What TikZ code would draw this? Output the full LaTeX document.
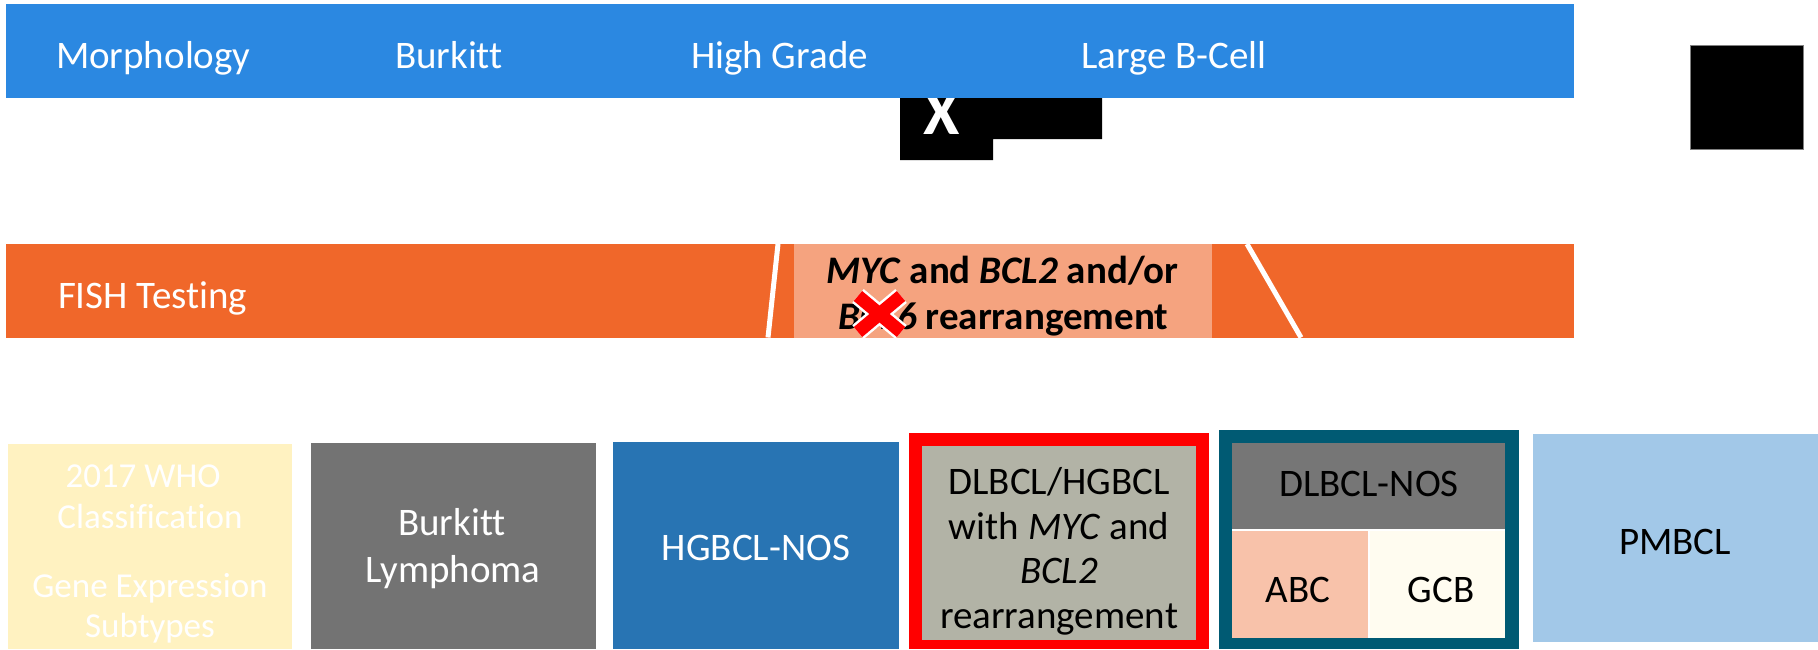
\documentclass[tikz,border=0pt]{standalone}
\usepackage{fontspec}
\setmainfont{Carlito}[Ligatures=NoCommon]
\definecolor{barblue}{HTML}{2B88E1}
\definecolor{fishorange}{HTML}{F0672A}
\definecolor{salmon}{HTML}{F5A37F}
\definecolor{paleyellow}{HTML}{FFF2C1}
\definecolor{burkgray}{HTML}{737373}
\definecolor{hgblue}{HTML}{2874B3}
\definecolor{olivegray}{HTML}{B2B3A6}
\definecolor{tealdark}{HTML}{005A73}
\definecolor{nosgray}{HTML}{767676}
\definecolor{abcpink}{HTML}{F8C2AA}
\definecolor{gcbcream}{HTML}{FFFCF0}
\definecolor{pmblue}{HTML}{A2C8E8}
\begin{document}
\begin{tikzpicture}[x=1pt,y=-1pt,
  rect/.style={inner sep=0pt, outer sep=0pt, anchor=north west, draw=none},
  lbl/.style={inner sep=0pt, outer sep=0pt, anchor=base, font=\fontsize{39}{46}\selectfont},
  lblw/.style={lbl, anchor=base west, text=white},
]
\useasboundingbox (0,0) rectangle (1818,649);

% black fragments under top bar
\fill[black] (900,97) -- (1102,97) -- (1102,139) -- (993,139) -- (993,160) -- (900,160) -- cycle;
\node[inner sep=0pt, anchor=base, text=white, font=\fontsize{66}{66}\selectfont\bfseries] (xmark) at (942,134) {X};
\node[rect, fill=black, draw=gray, line width=1pt, minimum width=113pt, minimum height=104pt] (blacksq) at (1690,45) {};

% morphology bar
\node[rect, fill=barblue, minimum width=1568pt, minimum height=93.5pt] (morphbar) at (6,4) {};
\node[lblw] (morph) at (56,68) {Morphology};
\node[lblw] (mburk) at (395,68) {Burkitt};
\node[lblw] (mhigh) at (691,68) {High Grade};
\node[lblw] (mlarge) at (1081,68) {Large B-Cell};

% FISH bar
\node[rect, fill=fishorange, minimum width=1568pt, minimum height=93.5pt] (fishbar) at (6,244) {};
\node[rect, fill=salmon, minimum width=418pt, minimum height=93.5pt] (rearrbox) at (793.5,244) {};
\draw[white, line width=5pt] (778,244) -- (768,337.5);
\draw[white, line width=5pt] (1247,244) -- (1301,337.5);
\node[lblw] (fish) at (58,308) {FISH Testing};
\node[lbl, font=\fontsize{39}{46}\selectfont\bfseries] (rl1) at (1002.5,283) {\textit{MYC} and \textit{BCL2} and/or};
\node[lbl, font=\fontsize{39}{46}\selectfont\bfseries] (rl2) at (1003.5,329) {\textit{BCL6} rearrangement};
% red cross
\draw[white, line width=18pt] (858,296) -- (901,332);
\draw[white, line width=18pt] (901,296) -- (858,332);
\draw[red, line width=13pt] (858,296) -- (901,332);
\draw[red, line width=13pt] (901,296) -- (858,332);

% bottom boxes
\node[rect, fill=paleyellow, minimum width=284pt, minimum height=205pt] (whobox) at (8,444) {};
\node[lbl, text=white, font=\fontsize{35}{41}\selectfont] (who1) at (143,487) {2017 WHO};
\node[lbl, text=white, font=\fontsize{35}{41}\selectfont] (who2) at (150,528) {Classification};
\node[lbl, text=white, font=\fontsize{35}{41}\selectfont] (who3) at (150,597) {Gene Expression};
\node[lbl, text=white, font=\fontsize{35}{41}\selectfont] (who4) at (150,637) {Subtypes};

\node[rect, fill=burkgray, minimum width=285pt, minimum height=206pt] (burkbox) at (311,443) {};
\node[lbl, text=white] (bl1) at (452,535) {Burkitt};
\node[lbl, text=white] (bl2) at (453,582) {Lymphoma};

\node[rect, fill=hgblue, minimum width=286pt, minimum height=207pt] (hgbox) at (613,442) {};
\node[lbl, text=white] (hg) at (756,560) {HGBCL-NOS};

\node[rect, fill=red, minimum width=300pt, minimum height=216pt] (dhbox) at (909,433) {};
\node[rect, fill=olivegray, minimum width=274pt, minimum height=194pt] (dhinner) at (922,446) {};
\node[lbl] (dh1) at (1059,494) {DLBCL/HGBCL};
\node[lbl] (dh2) at (1059,539) {with \textit{MYC} and};
\node[lbl] (dh3) at (1059,583) {\textit{BCL2}};
\node[lbl] (dh4) at (1059,628) {rearrangement};

\node[rect, fill=tealdark, minimum width=300pt, minimum height=219pt] (nosbox) at (1219,430) {};
\node[rect, fill=white, minimum width=273pt, minimum height=195pt] (nosgap) at (1232,443) {};
\node[rect, fill=nosgray, minimum width=273pt, minimum height=86pt] (nostop) at (1232,443) {};
\node[rect, fill=abcpink, minimum width=136pt, minimum height=107pt] (abcbox) at (1232,531) {};
\node[rect, fill=gcbcream, minimum width=135pt, minimum height=107pt] (gcbbox) at (1370,531) {};
\node[lbl] (nos) at (1369,496) {DLBCL-NOS};
\node[lbl] (abc) at (1298,602) {ABC};
\node[lbl] (gcb) at (1441,602) {GCB};

\node[rect, fill=pmblue, minimum width=285pt, minimum height=208pt] (pmbox) at (1533,434) {};
\node[lbl] (pm) at (1675,554) {PMBCL};
\end{tikzpicture}
\end{document}
